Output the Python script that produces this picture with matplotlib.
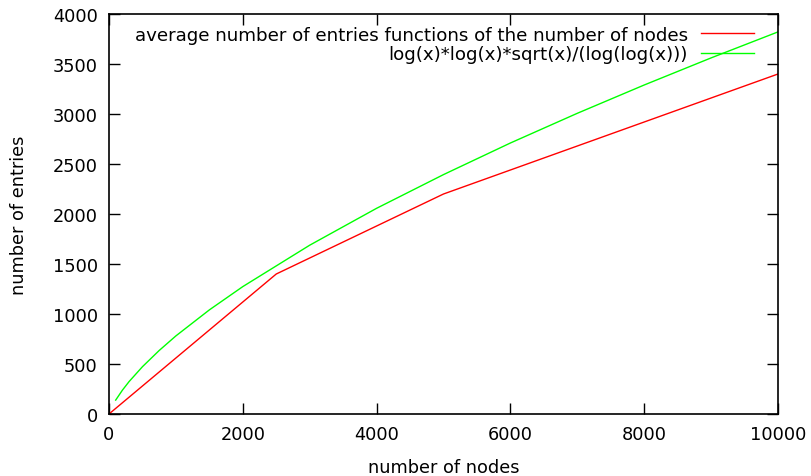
import matplotlib
matplotlib.use('Agg')
import matplotlib.pyplot as plt

# measured entries (red)
nodes = [0, 2500, 5000, 10000]
entries = [0, 1400, 2200, 3400]

# green curve
fx = [100, 200, 300, 500, 750, 1000, 1500, 2000, 3000, 4000, 5000,
      6000, 7000, 8000, 9000, 10000]
fy = [139, 238, 324, 473, 635, 781, 1041, 1274, 1688, 2057, 2394,
      2710, 3007, 3290, 3561, 3821]

xticks = [0, 2000, 4000, 6000, 8000, 10000]
yticks = [0, 500, 1000, 1500, 2000, 2500, 3000, 3500, 4000]

plt.rcParams['font.family'] = 'DejaVu Sans'
plt.rcParams['font.size'] = 12.8

fig = plt.figure(figsize=(8.11, 4.77), dpi=100)
ax = fig.add_axes([109/811, 1 - 415/477, (778-109)/811, (415-15)/477])

ax.plot(nodes, entries, color='#ff0000', lw=1,
        label='average number of entries functions of the number of nodes')
ax.plot(fx, fy, color='#00ff00', lw=1,
        label='log(x)*log(x)*sqrt(x)/(log(log(x)))')

ax.set_xlim(0, 10000)
ax.set_ylim(0, 4000)
ax.set_xticks(xticks)
ax.set_yticks(yticks)
ax.tick_params(direction='in', length=8, width=1, top=True, right=True, pad=8)
for s in ax.spines.values():
    s.set_linewidth(1.2)

ax.set_xlabel('number of nodes', labelpad=11)
ax.set_ylabel('number of entries', labelpad=18)

ax.legend(loc='upper right', bbox_to_anchor=(1 - 11/669, 1 + 1/400),
          frameon=False, markerfirst=False, prop={'size': 13.15},
          handlelength=2.9, handletextpad=0.72, labelspacing=0.08,
          borderaxespad=0.3)

plt.savefig('out.png', dpi=100)
